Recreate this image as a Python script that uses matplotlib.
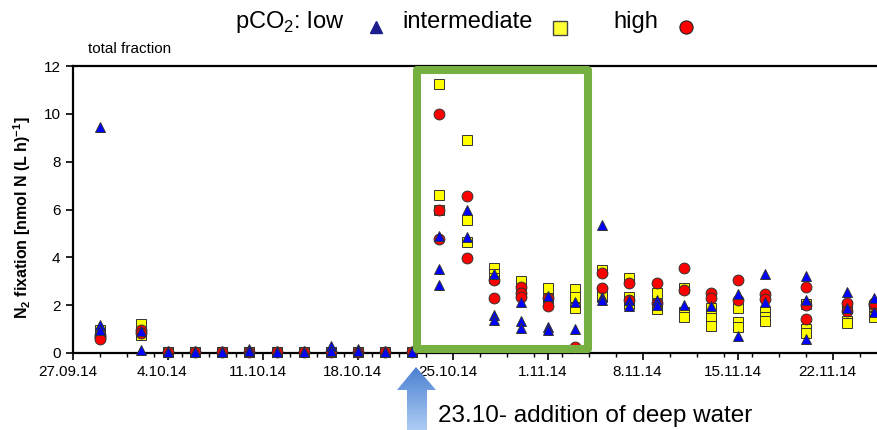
import numpy as np
import pandas as pd
import matplotlib
matplotlib.use('Agg')
import matplotlib.pyplot as plt
from matplotlib.patches import Polygon, Rectangle
from matplotlib.colors import LinearSegmentedColormap
from matplotlib.transforms import ScaledTranslation
import matplotlib.dates as mdates

plt.rcParams['font.family'] = ['Liberation Sans', 'DejaVu Sans']
plt.rcParams['mathtext.fontset'] = 'custom'
plt.rcParams['mathtext.rm'] = 'Liberation Sans'
plt.rcParams['mathtext.bf'] = 'Liberation Sans:bold'

nan = np.nan

# sampling days (2014)
sample_dates = ['29.09', '02.10', '04.10', '06.10', '08.10', '10.10', '12.10',
                '14.10', '16.10', '18.10', '20.10', '22.10', '24.10', '26.10',
                '28.10', '30.10', '01.11', '03.11', '05.11', '07.11', '09.11',
                '11.11', '13.11', '15.11', '17.11', '20.11', '23.11', '25.11']

# N2 fixation, three mesocosms per pCO2 level (nan = not visible)
low = [[9.45, 1.18, 0.95], [0.92, 0.12, nan], [0.08, 0.05, nan], [0.08, 0.05, nan],
       [0.10, 0.05, nan], [0.15, 0.08, nan], [0.10, 0.05, nan], [0.08, 0.05, nan],
       [0.28, 0.10, nan], [0.15, 0.08, nan], [0.08, 0.05, nan], [0.08, 0.05, nan],
       [4.90, 3.50, 2.85], [5.98, 4.86, nan], [3.30, 1.60, 1.40], [2.15, 1.35, 1.05],
       [2.40, 1.10, 0.95], [2.15, 1.00, nan], [5.35, 2.35, 2.20], [2.20, 1.95, nan],
       [2.20, 2.00, nan], [2.00, nan, nan], [1.96, nan, nan], [2.45, 0.70, nan],
       [3.29, 2.15, nan], [3.20, 2.22, 0.57], [2.55, 1.87, nan], [2.28, 1.73, nan]]

intermediate = [[0.95, 0.80, nan], [1.20, 0.75, nan], [0.05, 0.03, nan], [0.05, 0.03, nan],
                [0.05, 0.03, nan], [0.05, 0.03, nan], [0.05, 0.03, nan], [0.05, 0.03, nan],
                [0.05, 0.03, nan], [0.05, 0.03, nan], [0.05, 0.03, nan], [0.05, 0.03, nan],
                [11.25, 6.60, 6.00], [8.90, 5.56, 4.64], [3.55, 3.30, 3.15], [3.00, 2.65, 2.50],
                [2.70, 2.30, nan], [2.67, 2.35, 1.87], [3.47, 2.56, 2.40], [3.12, 2.35, 2.05],
                [2.50, 2.05, 1.83], [2.73, 1.73, 1.52], [1.90, 1.46, 1.14], [1.87, 1.31, 1.10],
                [1.70, 1.50, 1.35], [2.05, 1.00, 0.85], [1.95, 1.35, 1.25], [1.85, 1.55, 1.50]]

high = [[0.75, 0.65, 0.60], [0.95, 0.85, nan], [0.05, nan, nan], [0.05, nan, nan],
        [0.05, nan, nan], [0.05, nan, nan], [0.05, nan, nan], [0.05, nan, nan],
        [0.05, nan, nan], [0.05, nan, nan], [0.05, nan, nan], [0.05, nan, nan],
        [10.00, 5.98, 4.75], [6.58, 3.98, nan], [3.05, 2.30, nan], [2.75, 2.50, 2.35],
        [2.30, 1.96, nan], [0.25, nan, nan], [3.35, 2.70, nan], [2.94, 2.20, nan],
        [2.94, 2.10, nan], [3.57, 2.63, nan], [2.50, 2.31, nan], [3.05, 2.20, nan],
        [2.45, 2.25, nan], [2.75, 2.00, 1.42], [2.08, 1.75, nan], [2.00, 2.10, nan]]

dates = pd.to_datetime([d + '.2014' for d in sample_dates], format='%d.%m.%Y')
start = pd.Timestamp('2014-09-27')

fig = plt.figure(figsize=(8.78, 4.3), dpi=100)
ax = fig.add_axes([73 / 878, 77 / 430, 807 / 878, 287 / 430])

# squares below, circles middle, triangles on top
for vals, marker, color, z in [(intermediate, 's', '#ffff00', 3),
                               (high, 'o', '#ff0000', 4),
                               (low, '^', '#0000ff', 5)]:
    arr = np.array(vals)
    for k in range(arr.shape[1]):
        ax.plot(dates, arr[:, k], ls='none', marker=marker, ms=7.8, mfc=color,
                mec='#333333', mew=0.7, zorder=z, clip_on=False)

ax.set_xlim(start, start + pd.Timedelta(days=59.46))
ax.set_ylim(0, 12)
ax.set_yticks(range(0, 13, 2))
major = pd.date_range(start, periods=9, freq='7D')
ax.set_xticks(major)
ax.set_xticklabels([f'{d.day}.{d.month:02d}.{d.strftime("%y")}' for d in major])
ax.set_xticks(pd.date_range(start, periods=30, freq='2D'), minor=True)
ax.tick_params(axis='both', which='major', direction='out', length=5, width=1.2,
               labelsize=11, pad=4)
ax.tick_params(axis='x', which='minor', direction='out', length=3, width=1)
for lab in ax.get_xticklabels():
    lab.set_transform(lab.get_transform() + ScaledTranslation(-4 / 72, 0, fig.dpi_scale_trans))

ax.spines['right'].set_visible(False)
for s in ['left', 'bottom', 'top']:
    ax.spines[s].set_linewidth(1.6)

# green box around the response after deep water addition
x0 = mdates.date2num(start + pd.Timedelta(days=25.35))
x1 = mdates.date2num(start + pd.Timedelta(days=37.95))
ax.add_patch(Rectangle((x0, 0.17), x1 - x0, 11.66, fill=False, ec='#76b041',
                       lw=5.8, joinstyle='round', zorder=6, clip_on=False))

# overlay in pixel coords for legend, labels and arrow
ov = fig.add_axes([0, 0, 1, 1])
ov.axis('off')

ov.text(235, 22, 'pCO$_2$: low', fontsize=17, va='center', ha='left')
ov.text(402, 22, 'intermediate', fontsize=17, va='center', ha='left')
ov.text(613, 22, 'high', fontsize=17, va='center', ha='left')
ov.plot(376, 27, marker='^', ms=9, mfc='#1c1c8f', mec='#1c1c8f')
ov.plot(560, 28, marker='s', ms=9.5, mfc='#ffff33', mec='#444444', mew=1)
ov.plot(686, 27, marker='o', ms=9.5, mfc='#ff0000', mec='#222222', mew=0.8)

ov.text(88, 49, 'total fraction', fontsize=11, va='center', ha='left')
ov.text(22, 218, r'N$_\mathbf{2}$ fixation [nmol N (L h)$^\mathbf{-1}$]', rotation=90,
        fontsize=11.5, fontweight='bold', va='center', ha='center')

arrow = Polygon([(416, 367), (436, 390), (427, 390), (427, 432), (407, 432),
                 (407, 390), (397, 390)], closed=True, fc='none', ec='none')
ov.add_patch(arrow)
grad = np.linspace(0, 1, 100)[:, None]
cmap = LinearSegmentedColormap.from_list('arr', ['#4a7fd0', '#b0cff6'])
im = ov.imshow(grad, extent=(395, 438, 432, 366), cmap=cmap, aspect='auto')
im.set_clip_path(arrow)
ov.text(438, 416, '23.10- addition of deep water', fontsize=17.5, va='center', ha='left')

ov.set_xlim(0, 878)
ov.set_ylim(430, 0)

fig.savefig('out.png', dpi=100)
